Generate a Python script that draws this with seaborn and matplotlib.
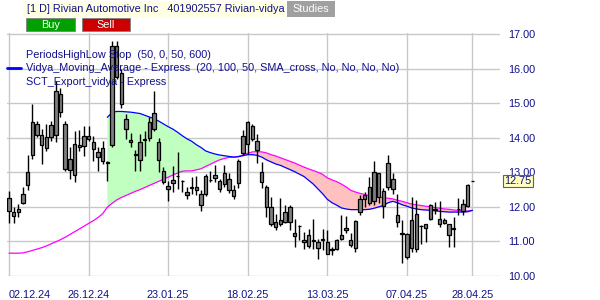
import numpy as np
import pandas as pd
import matplotlib
matplotlib.use("Agg")
import matplotlib.pyplot as plt
import matplotlib.transforms as mtransforms
from matplotlib.patches import Rectangle
from matplotlib.lines import Line2D
import seaborn as sns

# ---------------- data ----------------
high = [12.45, 11.99, 12.09, 12.57, 13.50, 14.97, 14.49, 14.25, 14.39, 14.49,
        15.64, 15.45, 14.49, 13.72, 14.20, 14.22, 14.35, 14.35, 14.06, 13.74,
        13.91, 13.32, 16.80, 16.80, 15.98, 14.70, 14.13, 13.64, 14.10, 14.20,
        14.59, 15.36, 14.00, 13.14, 12.76, 13.19, 13.58, 12.78, 12.57, 12.86,
        12.90, 12.48, 12.96, 13.05, 13.20, 12.81, 13.20, 12.98, 12.62, 13.39,
        14.23, 14.47, 14.41, 14.12, 13.30, 12.62, 12.28, 11.80, 12.26, 12.04,
        12.05, 11.66, 11.47, 11.27, 11.37, 11.66, 11.08, 11.37, 11.32, 10.84,
        11.08, 11.76, 11.73, 11.23, 11.61, 12.33, 12.43, 12.86, 13.33, 12.99,
        12.56, 13.49, 12.98, 12.38, 11.62, 11.25, 12.29, 12.20, 11.47, 11.49,
        12.09, 12.14, 12.17, 11.69, 11.51, 11.71, 12.25, 12.24, 12.65, 12.75]
body_top = [12.26, 11.86, 11.94, 12.36, 13.01, 14.45, 14.39, 14.08, 14.03, 14.38,
            15.34, 15.26, 14.41, 13.38, 13.82, 13.80, 14.06, 14.06, 13.89, 13.60,
            13.70, 13.29, 16.65, 16.65, 15.88, 14.54, 13.94, 13.53, 13.87, 13.95,
            14.46, 14.73, 13.87, 13.05, 12.60, 12.78, 12.90, 12.76, 12.44, 12.58,
            12.57, 12.38, 12.88, 12.79, 12.93, 12.74, 12.99, 12.81, 12.50, 13.32,
            14.04, 14.45, 14.33, 13.92, 13.01, 12.57, 11.99, 11.56, 11.61, 11.84,
            12.00, 11.25, 11.46, 11.03, 11.18, 11.04, 10.97, 11.07, 10.98, 10.78,
            11.03, 11.20, 11.39, 11.05, 11.59, 12.22, 12.35, 12.58, 13.01, 12.99,
            12.46, 13.28, 12.82, 11.76, 11.24, 11.21, 11.62, 11.79, 11.46, 11.49,
            12.05, 11.95, 11.66, 11.61, 11.51, 11.39, 11.95, 12.09, 12.62, 12.75]
body_bot = [11.89, 11.74, 11.85, 12.11, 12.63, 13.50, 14.08, 13.80, 13.70, 14.01,
            14.08, 14.75, 13.10, 13.07, 12.92, 13.74, 13.77, 13.95, 13.67, 13.43,
            13.32, 13.27, 13.80, 15.76, 14.97, 14.25, 13.88, 13.51, 13.36, 13.93,
            13.98, 14.25, 13.36, 12.71, 12.52, 12.68, 12.88, 12.74, 12.35, 12.56,
            12.50, 12.04, 12.36, 12.77, 12.83, 12.52, 12.67, 12.48, 12.30, 12.70,
            13.56, 13.81, 13.97, 13.65, 12.72, 11.99, 11.49, 11.43, 11.51, 11.56,
            11.55, 11.16, 11.44, 10.98, 10.86, 11.02, 10.82, 11.05, 10.65, 10.76,
            10.79, 11.08, 11.32, 10.89, 10.82, 11.85, 12.24, 12.11, 12.17, 12.29,
            12.02, 12.58, 12.53, 11.56, 11.22, 10.56, 10.80, 10.78, 11.44, 11.39,
            11.66, 11.90, 11.51, 11.54, 11.18, 11.37, 11.93, 11.88, 12.02, 12.75]
low = [11.53, 11.53, 11.70, 12.09, 12.49, 13.38, 14.01, 13.24, 13.62, 13.91,
       13.87, 14.59, 13.05, 12.81, 12.71, 13.63, 13.48, 13.91, 13.34, 13.03,
       13.24, 12.76, 13.72, 15.70, 14.87, 13.96, 13.74, 13.03, 13.05, 13.48,
       13.91, 14.20, 13.00, 12.66, 12.18, 12.42, 12.52, 12.42, 12.23, 12.38,
       12.33, 11.88, 12.30, 12.72, 12.72, 12.43, 12.57, 12.40, 12.24, 12.55,
       13.49, 13.54, 13.92, 13.27, 12.55, 11.70, 11.46, 11.34, 11.46, 11.53,
       11.32, 10.84, 11.03, 10.79, 10.82, 10.79, 10.50, 10.74, 10.63, 10.60,
       10.74, 11.03, 11.23, 10.84, 10.70, 11.76, 12.00, 12.05, 12.05, 12.11,
       11.69, 12.48, 12.38, 11.42, 10.38, 10.50, 10.70, 10.70, 10.94, 10.98,
       11.61, 11.80, 11.42, 11.51, 10.84, 10.85, 11.76, 11.76, 12.00, 12.75]

# SCT_Export_vidya (magenta), one value per bar
sct_export = [10.66, 10.66, 10.66, 10.67, 10.70, 10.74, 10.78, 10.82, 10.87, 10.93,
              10.99, 11.05, 11.12, 11.20, 11.28, 11.36, 11.44, 11.52, 11.60, 11.69,
              11.80, 11.99, 12.10, 12.20, 12.27, 12.33, 12.39, 12.45, 12.50, 12.56,
              12.62, 12.68, 12.74, 12.80, 12.86, 12.92, 12.98, 13.03, 13.04, 13.04,
              13.07, 13.10, 13.17, 13.23, 13.30, 13.36, 13.40, 13.43, 13.44, 13.46,
              13.50, 13.55, 13.59, 13.60, 13.59, 13.56, 13.51, 13.47, 13.42, 13.37,
              13.32, 13.27, 13.21, 13.15, 13.10, 13.05, 13.00, 12.94, 12.84, 12.78,
              12.73, 12.66, 12.58, 12.48, 12.43, 12.39, 12.36, 12.32, 12.30, 12.28,
              12.27, 12.25, 12.23, 12.19, 12.16, 12.12, 12.08, 12.06, 12.04, 12.02,
              12.00, 11.98, 11.96, 11.94, 11.93, 11.91, 11.90, 11.88, 11.88, 11.90]

# Vidya_Moving_Average (blue), starts at bar 21
vidya_start = 21
vidya = [14.59, 14.73, 14.76, 14.76, 14.75, 14.74, 14.72, 14.70, 14.65, 14.60,
         14.55, 14.48, 14.40, 14.32, 14.25, 14.16, 14.06, 13.97, 13.90, 13.80,
         13.72, 13.62, 13.57, 13.53, 13.50, 13.48, 13.46, 13.44, 13.45, 13.48,
         13.51, 13.51, 13.49, 13.44, 13.36, 13.30, 13.24, 13.20, 13.14, 13.08,
         13.02, 12.95, 12.88, 12.77, 12.66, 12.52, 12.38, 12.22, 12.12, 12.05,
         11.97, 11.94, 11.92, 11.92, 11.92, 11.92, 11.93, 11.96, 12.00, 12.04,
         12.12, 12.16, 12.12, 12.06, 12.02, 11.97, 11.94, 11.92, 11.91, 11.90,
         11.89, 11.87, 11.86, 11.85, 11.85, 11.85, 11.85, 11.86, 11.90]

tick_bars = [0, 17, 34, 51, 68, 85, 99]
tick_labels = ["02.12.24", "26.12.24", "23.01.25", "18.02.25", "13.03.25", "07.04.25", "28.04.25"]
y_ticks = [10, 11, 12, 13, 14, 15, 16, 17]
last_price = 12.75

header_text = "[1 D] Rivian Automotive Inc   401902557 Rivian-vidya"
legend_lines = ["PeriodsHighLow Stop  (50, 0, 50, 600)",
                "Vidya_Moving_Average - Express  (20, 100, 50, SMA_cross, No, No, No, No)",
                "SCT_Export_vidya - Express"]

# ---------------- figure ----------------
sns.set_style("white")
plt.rcParams["font.family"] = ["Liberation Sans", "DejaVu Sans"]
NAVY = "#10108a"
FS = 7.8

W, H = 600, 300
fig = plt.figure(figsize=(6, 3), dpi=100)
fig.patch.set_facecolor("white")

def fx(px):
    return px / W

def fy(py):
    return 1 - py / H

ax = fig.add_axes([fx(7), fy(276), fx(500) - fx(7), fy(33) - fy(276)])
ax.set_facecolor("white")

n = len(high)
bars = np.arange(n)
df = pd.DataFrame({"bar": bars, "high": high, "low": low,
                   "top": body_top, "bot": body_bot, "sct": sct_export})
vdf = pd.DataFrame({"bar": np.arange(vidya_start, vidya_start + len(vidya)), "vidya": vidya})

# fills between the two averages
mag = df["sct"].values[vidya_start:]
vb = vdf["bar"].values
vv = vdf["vidya"].values
ax.fill_between(vb, vv, mag, where=vv >= mag, interpolate=True,
                color="#c0ffc0", linewidth=0, zorder=1)
ax.fill_between(vb, vv, mag, where=vv < mag, interpolate=True,
                color="#ffc0c0", linewidth=0, zorder=1)

sns.lineplot(data=df, x="bar", y="sct", ax=ax, color="#ff00ff", linewidth=0.9, zorder=2)
sns.lineplot(data=vdf, x="bar", y="vidya", ax=ax, color="#0000ff", linewidth=0.9, zorder=2)

# candles
ax.vlines(df["bar"], df["low"], df["high"], color="black", linewidth=1.0, zorder=3)
ax.bar(df["bar"], df["top"] - df["bot"], bottom=df["bot"], width=0.72,
       color="#7f7f7f", edgecolor="black", linewidth=0.9, zorder=4)

ax.set_xlim(-0.43, 104.9)
ax.set_ylim(10, 17.03)
ax.set_xlabel("")
ax.set_ylabel("")

ax.set_xticks(tick_bars)
ax.set_xticklabels(tick_labels)
ax.set_yticks(y_ticks)
ax.set_yticklabels([f"{v:.2f}" for v in y_ticks])
ax.yaxis.tick_right()
ax.tick_params(axis="x", length=0, pad=10, labelsize=FS, labelcolor=NAVY)
ax.tick_params(axis="y", length=0, pad=6, labelsize=FS, labelcolor=NAVY)
for lab in ax.get_yticklabels():
    lab.set_horizontalalignment("left")
xl = ax.get_xticklabels()
xl[0].set_horizontalalignment("left")
ax.grid(True, color="#c8c8c8", linewidth=1.0, zorder=0)
ax.set_axisbelow(True)
for s in ax.spines.values():
    s.set_visible(False)

# last price box
tr = mtransforms.blended_transform_factory(fig.transFigure, ax.transData)
ax.text(fx(504), last_price, f"{last_price:.2f}", transform=tr, fontsize=FS, color=NAVY,
        va="center", ha="left", clip_on=False, zorder=10,
        bbox=dict(boxstyle="square,pad=0.12", facecolor="#ffffc0", edgecolor="#606060", linewidth=0.8))

# header banner + buttons
fig.patches.append(Rectangle((fx(23), fy(17)), fx(285) - fx(23), fy(1) - fy(17),
                             transform=fig.transFigure, facecolor="#ffffe3", edgecolor="none"))
fig.text(fx(27), fy(9.5), header_text, fontsize=FS, color=NAVY, va="center", ha="left")
fig.patches.append(Rectangle((fx(287), fy(17)), fx(335) - fx(287), fy(1) - fy(17),
                             transform=fig.transFigure, facecolor="#a0a0a0", edgecolor="none"))
fig.text(fx(311), fy(9.5), "Studies", fontsize=FS, color="white", va="center", ha="center")

fig.patches.append(Rectangle((fx(26), fy(31)), fx(75) - fx(26), fy(18) - fy(31),
                             transform=fig.transFigure, facecolor="#00a000", edgecolor="#808080", linewidth=0.6))
fig.text(fx(50.5), fy(24.5), "Buy", fontsize=FS, color="white", va="center", ha="center")
fig.patches.append(Rectangle((fx(82), fy(31)), fx(130) - fx(82), fy(18) - fy(31),
                             transform=fig.transFigure, facecolor="#cc0000", edgecolor="#808080", linewidth=0.6))
fig.text(fx(106), fy(24.5), "Sell", fontsize=FS, color="white", va="center", ha="center")

# legend texts
for txt, py in zip(legend_lines, [55, 68.5, 82]):
    fig.text(fx(26), fy(py), txt, fontsize=FS, color=NAVY, va="center", ha="left", zorder=6)
fig.lines.append(Line2D([fx(7), fx(21)], [fy(68.5), fy(68.5)], transform=fig.transFigure,
                        color="#0000ff", linewidth=2))

fig.savefig("out.png", dpi=100, facecolor="white")
